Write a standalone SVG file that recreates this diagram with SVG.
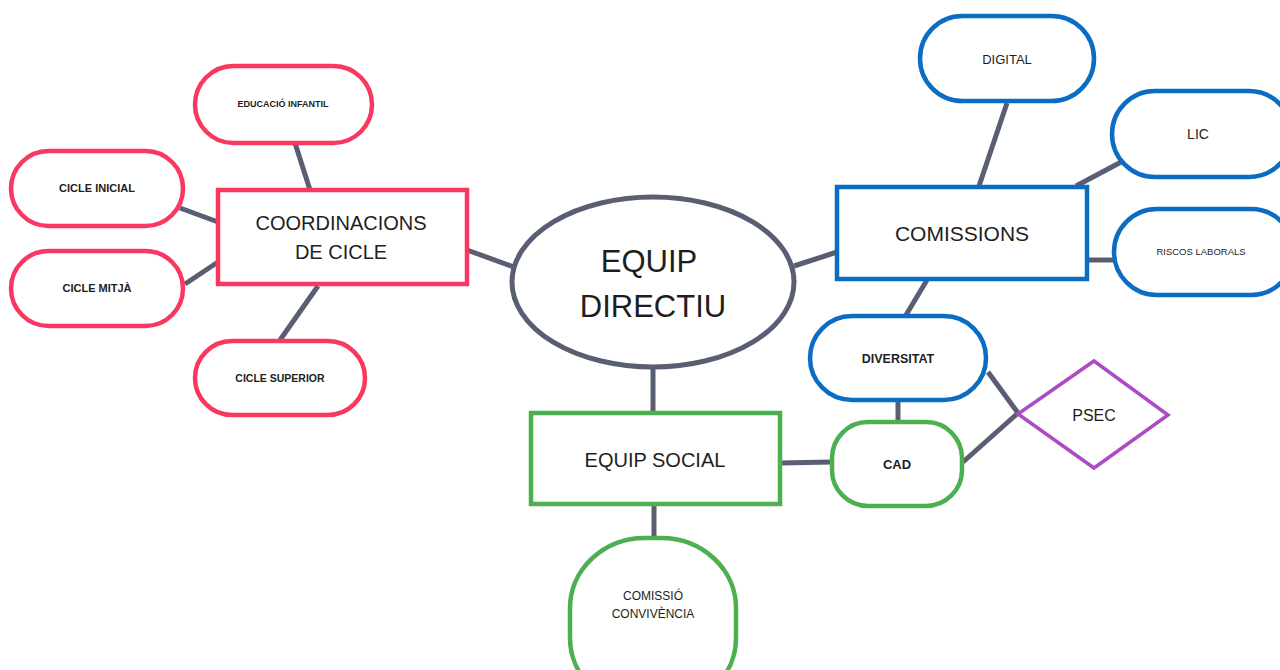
<svg xmlns="http://www.w3.org/2000/svg" width="1280" height="670" viewBox="0 0 1280 670">
<style>
.pk{fill:#fff;stroke:#f93862;stroke-width:4.5}
.bl{fill:#fff;stroke:#0a6cc2;stroke-width:4.5}
.gr{fill:#fff;stroke:#4caf50;stroke-width:4.5}
.pu{fill:#fff;stroke:#ab4cc6;stroke-width:3.5}
.ge{fill:#fff;stroke:#5a5e72;stroke-width:5}
.c line{stroke:#5a5e72;stroke-width:5;stroke-linecap:butt}
text{font-family:"Liberation Sans",Arial,sans-serif;fill:#1e1e1e;text-anchor:middle}
.b{font-weight:bold}
</style>
<rect width="1280" height="670" fill="#fff"/>
<g class="c" id="connectors">
<line x1="295" y1="143" x2="310" y2="190"/>
<line x1="180" y1="208" x2="218" y2="222"/>
<line x1="185" y1="284" x2="218" y2="262"/>
<line x1="280" y1="340" x2="318" y2="286"/>
<line x1="467" y1="250" x2="514" y2="267"/>
<line x1="794" y1="266" x2="837" y2="252"/>
<line x1="1007" y1="103" x2="979" y2="186"/>
<line x1="1123" y1="161" x2="1076" y2="186"/>
<line x1="1087" y1="260" x2="1114" y2="260"/>
<line x1="927" y1="280" x2="906" y2="315"/>
<line x1="653" y1="368" x2="653" y2="412"/>
<line x1="898" y1="400" x2="898" y2="422"/>
<line x1="780" y1="463" x2="832" y2="462"/>
<line x1="988" y1="372" x2="1018" y2="413"/>
<line x1="963" y1="462" x2="1018" y2="413"/>
<line x1="654" y1="504" x2="654" y2="537"/>
</g>
<g id="equip-directiu"><ellipse class="ge" cx="653" cy="282" rx="141" ry="85"/><text x="649" y="272" font-size="31">EQUIP</text><text x="653" y="317" font-size="31">DIRECTIU</text></g>
<g id="coordinacions"><rect class="pk" x="218" y="190" width="249" height="94"/><text x="341" y="230" font-size="20">COORDINACIONS</text><text x="341" y="259" font-size="20">DE CICLE</text></g>
<g id="educacio"><rect class="pk" x="195" y="66" width="177" height="77" rx="38.5"/><text class="b" x="283" y="107" font-size="9">EDUCACIÓ INFANTIL</text></g>
<g id="cicle-inicial"><rect class="pk" x="11" y="151" width="172" height="75" rx="37.5"/><text class="b" x="97" y="192" font-size="11">CICLE INICIAL</text></g>
<g id="cicle-mitja"><rect class="pk" x="11" y="251" width="172" height="75" rx="37.5"/><text class="b" x="97" y="292" font-size="11">CICLE MITJÀ</text></g>
<g id="cicle-superior"><rect class="pk" x="195" y="341" width="170" height="74" rx="37"/><text class="b" x="280" y="382" font-size="10.5">CICLE SUPERIOR</text></g>
<g id="comissions"><rect class="bl" x="837" y="187" width="250" height="92"/><text x="962" y="241" font-size="21">COMISSIONS</text></g>
<g id="digital"><rect class="bl" x="920" y="16" width="174" height="85" rx="42.5"/><text x="1007" y="64" font-size="13">DIGITAL</text></g>
<g id="lic"><rect class="bl" x="1112" y="91" width="180" height="86" rx="43"/><text x="1198" y="139" font-size="14">LIC</text></g>
<g id="riscos"><rect class="bl" x="1114" y="209" width="180" height="86" rx="43"/><text x="1201" y="255" font-size="9.5">RISCOS LABORALS</text></g>
<g id="diversitat"><rect class="bl" x="810" y="316" width="176" height="84" rx="42"/><text class="b" x="898" y="363" font-size="12.5">DIVERSITAT</text></g>
<g id="equip-social"><rect class="gr" x="531" y="413" width="249" height="91"/><text x="655" y="467" font-size="20">EQUIP SOCIAL</text></g>
<g id="cad"><rect class="gr" x="832" y="422" width="130" height="84" rx="36"/><text class="b" x="897" y="469" font-size="13">CAD</text></g>
<g id="psec"><polygon class="pu" points="1018,414 1094,361 1168,415 1094,468"/><text x="1094" y="421" font-size="16">PSEC</text></g>
<g id="comissio-convivencia"><rect class="gr" x="570" y="538" width="166" height="170" rx="75" ry="70"/><text x="653" y="600" font-size="12">COMISSIÓ</text><text x="653" y="618" font-size="12">CONVIVÈNCIA</text></g>
</svg>
